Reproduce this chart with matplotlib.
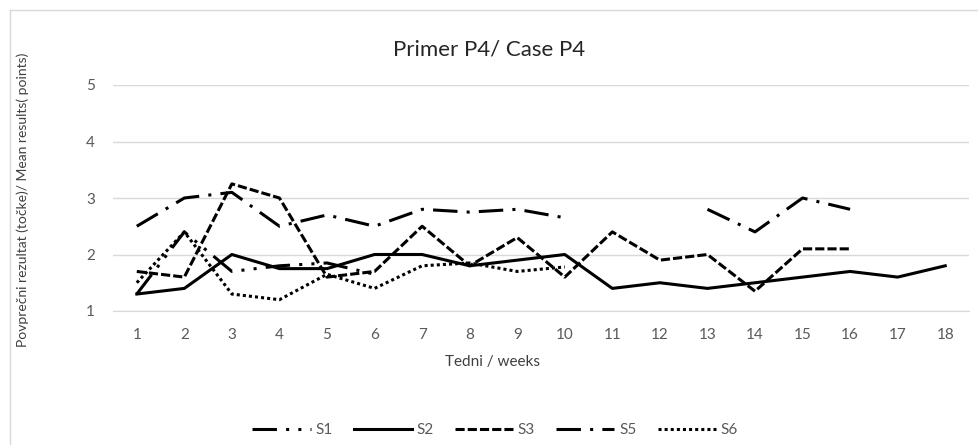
import numpy as np
import matplotlib
matplotlib.use("Agg")
import matplotlib.pyplot as plt
from matplotlib.lines import Line2D

plt.rcParams['font.family'] = ['Lato', 'DejaVu Sans']

weeks = list(range(1, 19))
s1 = [1.3, 2.4, 1.7, 1.8, 1.85, 1.65]
s2 = [1.3, 1.4, 2.0, 1.75, 1.75, 2.0, 2.0, 1.8, 1.9, 2.0, 1.4, 1.5, 1.4, 1.5, 1.6, 1.7, 1.6, 1.8]
s3 = [1.7, 1.6, 3.25, 3.0, 1.6, 1.7, 2.5, 1.8, 2.3, 1.6, 2.4, 1.9, 2.0, 1.35, 2.1, 2.1]
s5 = [2.5, 3.0, 3.1, 2.5, 2.7, 2.5, 2.8, 2.75, 2.8, 2.65, np.nan, np.nan, 2.8, 2.4, 3.0, 2.8]
s6 = [1.5, 2.4, 1.3, 1.2, 1.65, 1.4, 1.8, 1.85, 1.7, 1.78]
yticks = [1, 2, 3, 4, 5]

W, H = 979, 445
gray = '#595959'
grid = '#D9D9D9'

fig = plt.figure(figsize=(W / 100, H / 100), dpi=100)
ax = fig.add_axes([113 / W, 1 - 311 / H, (969 - 113) / W, (311 - 85) / H])

# chart border (only top and left edges visible)
fig.add_artist(Line2D([10 / W, 10 / W], [0, 1 - 10 / H], color=grid, lw=1))
fig.add_artist(Line2D([10 / W, 1], [1 - 10 / H, 1 - 10 / H], color=grid, lw=1))

lw = 2.2
ax.plot(weeks[:len(s1)], s1, color='black', lw=lw, ls=(0, (8, 3, 1, 3, 1, 3)), label='S1')
ax.plot(weeks[:len(s2)], s2, color='black', lw=lw, ls='-', label='S2')
ax.plot(weeks[:len(s3)], s3, color='black', lw=lw, ls=(0, (3, 1)), label='S3')
ax.plot(weeks[:len(s5)], s5, color='black', lw=lw, ls=(0, (8, 3, 1, 3)), label='S5')
ax.plot(weeks[:len(s6)], s6, color='black', lw=lw, ls=(0, (1, 1)), label='S6')

ax.set_xlim(0.5, 18.5)
ax.set_ylim(1, 5)
ax.set_xticks(weeks)
ax.set_yticks(yticks)
ax.tick_params(length=0, labelsize=11, labelcolor=gray)
ax.tick_params(axis='x', pad=12)
ax.tick_params(axis='y', pad=13)
ax.grid(axis='y', color=grid, lw=1)
ax.set_axisbelow(True)
for s in ['top', 'right', 'left']:
    ax.spines[s].set_visible(False)
ax.spines['bottom'].set_color(grid)

fig.text(489 / W, 1 - 50 / H, 'Primer P4/ Case P4', ha='center', va='center', fontsize=16, color='#262626')
fig.text(493 / W, 1 - 362 / H, 'Tedni / weeks', ha='center', va='center', fontsize=11, color='#404040')
fig.text(23 / W, 1 - 200 / H, 'Povprečni rezultat (točke)/ Mean results( points)', ha='center', va='center',
         rotation=90, fontsize=10, color='#404040')

fig.legend(loc='center', bbox_to_anchor=(495 / W, 1 - 430 / H), ncol=5, frameon=False,
           fontsize=11, labelcolor=gray, handlelength=3.8, handletextpad=0.3, columnspacing=1.4)

fig.savefig('out.png', dpi=100)
